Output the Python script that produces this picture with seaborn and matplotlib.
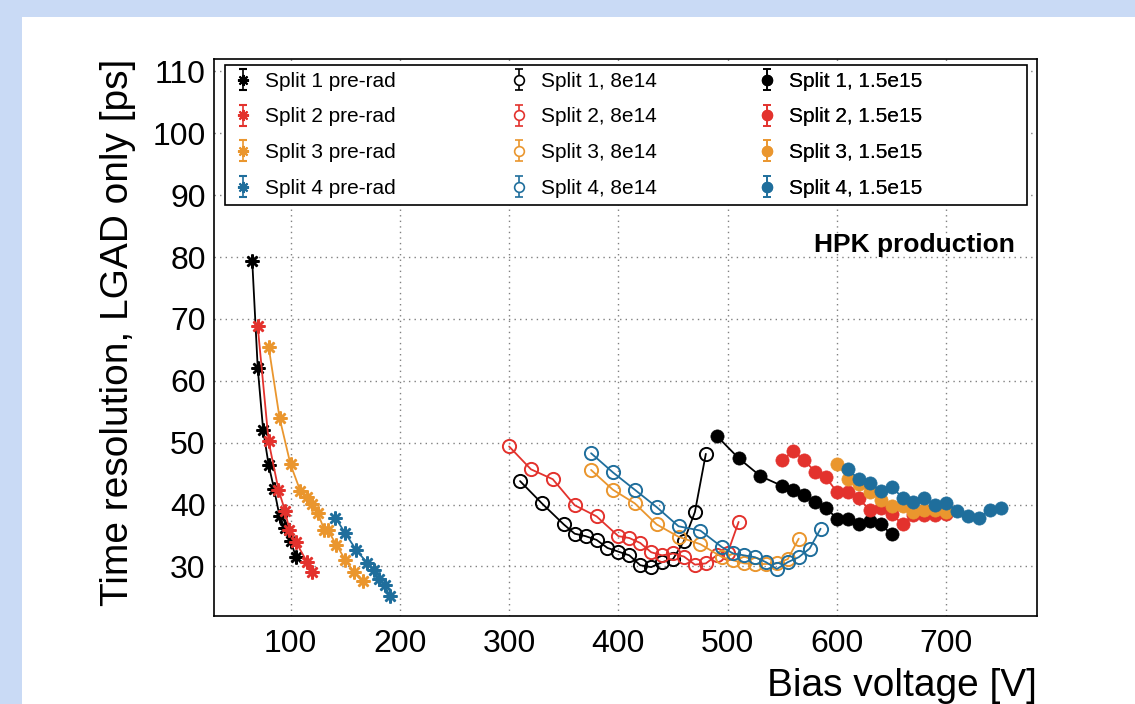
import numpy as np
import pandas as pd
import matplotlib
matplotlib.use("Agg")
import matplotlib.pyplot as plt
import seaborn as sns
from matplotlib.patches import Rectangle
from matplotlib.ticker import MultipleLocator

# ---------------- data ----------------
v_pre1 = [65, 70, 75, 80, 85, 90, 95, 100, 105]
t_pre1 = [79.3, 62.1, 52.0, 46.4, 42.5, 38.1, 36.2, 34.1, 31.6]
v_pre2 = [70, 80, 89, 95, 99, 105, 115, 120]
t_pre2 = [68.8, 50.2, 42.4, 39.0, 35.9, 33.9, 30.8, 29.1]
v_pre3 = [80, 90, 100, 109, 115, 120, 125, 131, 134, 142, 150, 158, 166]
t_pre3 = [65.5, 54.0, 46.5, 42.2, 41.3, 40.1, 38.6, 35.9, 35.9, 33.5, 31.1, 29.1, 27.6]
v_pre4 = [141, 150, 160, 170, 176, 181, 186, 191]
t_pre4 = [37.9, 35.4, 32.7, 30.6, 29.4, 27.9, 27.0, 25.2]

v_8e14_1 = [310, 330, 350, 360, 370, 380, 390, 400, 410, 420, 430, 440, 450, 460, 470, 480]
t_8e14_1 = [43.8, 40.2, 36.8, 35.3, 34.9, 34.3, 33.0, 32.4, 31.8, 30.2, 29.9, 30.7, 31.2, 34.1, 38.8, 48.2]
v_8e14_2 = [300, 320, 340, 360, 380, 400, 410, 420, 430, 440, 450, 460, 470, 480, 490, 500, 510]
t_8e14_2 = [49.4, 45.7, 44.1, 39.9, 38.1, 34.9, 34.6, 33.8, 32.3, 31.8, 32.1, 31.6, 30.3, 30.5, 31.8, 32.2, 37.2]
v_8e14_3 = [375, 395, 415, 435, 455, 475, 495, 505, 515, 525, 535, 545, 555, 565]
t_8e14_3 = [45.6, 42.4, 40.2, 36.8, 34.8, 33.6, 31.5, 31.0, 30.5, 30.4, 30.4, 30.5, 31.2, 34.5]
v_8e14_4 = [375, 395, 415, 435, 455, 475, 495, 505, 515, 525, 535, 545, 555, 565, 575, 585]
t_8e14_4 = [48.3, 45.2, 42.4, 39.6, 36.5, 35.8, 33.1, 32.1, 31.8, 31.5, 30.7, 29.6, 30.7, 31.5, 32.9, 36.1]

v_15e15_1 = [490, 510, 530, 550, 560, 570, 580, 590, 600, 610, 620, 630, 640, 650]
t_15e15_1 = [51.1, 47.5, 44.6, 43.0, 42.4, 41.5, 40.4, 39.5, 37.7, 37.7, 36.9, 37.3, 36.8, 35.2]
v_15e15_2 = [550, 560, 570, 580, 590, 600, 610, 620, 630, 640, 650, 660, 670, 680, 690, 700]
t_15e15_2 = [47.2, 48.6, 47.2, 45.3, 44.4, 42.0, 42.1, 41.0, 39.1, 39.4, 38.5, 36.8, 38.3, 38.3, 38.4, 38.5]
v_15e15_3 = [600, 610, 620, 630, 640, 650, 660, 670, 680, 690, 700]
t_15e15_3 = [46.6, 44.2, 43.4, 42.1, 40.7, 39.7, 39.7, 38.8, 39.1, 39.1, 38.8]
v_15e15_4 = [610, 620, 630, 640, 650, 660, 670, 680, 690, 700, 710, 720, 730, 740, 750]
t_15e15_4 = [45.7, 44.1, 43.5, 42.2, 42.9, 41.1, 40.4, 41.1, 39.9, 40.3, 39.0, 38.1, 37.9, 39.2, 39.5]

labels_pre = ["Split 1 pre-rad", "Split 2 pre-rad", "Split 3 pre-rad", "Split 4 pre-rad"]
labels_8e14 = ["Split 1, 8e14", "Split 2, 8e14", "Split 3, 8e14", "Split 4, 8e14"]
labels_15e15 = ["Split 1, 1.5e15", "Split 2, 1.5e15", "Split 3, 1.5e15", "Split 4, 1.5e15"]

x_ticks = [100, 200, 300, 400, 500, 600, 700]
y_ticks = [30, 40, 50, 60, 70, 80, 90, 100, 110]

colors = ["#000000", "#e3322d", "#ea962e", "#1f6e9c"]

# ---------------- style ----------------
sns.set_theme(style="white")
plt.rcParams["font.family"] = ["Liberation Sans", "DejaVu Sans"]
plt.rcParams.update({"text.color": "black", "axes.labelcolor": "black",
                     "xtick.color": "black", "ytick.color": "black"})

W, H = 1135, 704
fig = plt.figure(figsize=(W / 100, H / 100), dpi=100, facecolor="#c9daf5")
fig.add_artist(Rectangle((22 / W, 0), 1 - 22 / W, 1 - 17 / H, transform=fig.transFigure,
                         facecolor="white", edgecolor="none", zorder=-10))
ax = fig.add_axes([214 / W, 1 - 616 / H, (1037 - 214) / W, (616 - 59) / H])
ax.set_facecolor("white")

pre = [(v_pre1, t_pre1), (v_pre2, t_pre2), (v_pre3, t_pre3), (v_pre4, t_pre4)]
irr1 = [(v_8e14_1, t_8e14_1), (v_8e14_2, t_8e14_2), (v_8e14_3, t_8e14_3), (v_8e14_4, t_8e14_4)]
irr2 = [(v_15e15_1, t_15e15_1), (v_15e15_2, t_15e15_2), (v_15e15_3, t_15e15_3), (v_15e15_4, t_15e15_4)]

star = (8, 2, 0)

for (v, t), c in zip(pre, colors):
    df = pd.DataFrame({"V": v, "t": t})
    sns.lineplot(data=df, x="V", y="t", ax=ax, color=c, lw=1.3, marker=star,
                 markersize=10, markeredgewidth=1.8, markeredgecolor=c,
                 estimator=None, sort=False, zorder=3)
for (v, t), c in zip(irr1, colors):
    df = pd.DataFrame({"V": v, "t": t})
    sns.lineplot(data=df, x="V", y="t", ax=ax, color=c, lw=1.3, marker="o",
                 markersize=9.5, markerfacecolor="none", markeredgecolor=c,
                 markeredgewidth=1.4, estimator=None, sort=False, zorder=3)
for (v, t), c in zip(irr2, colors):
    df = pd.DataFrame({"V": v, "t": t})
    sns.lineplot(data=df, x="V", y="t", ax=ax, color=c, lw=1.3, marker="o",
                 markersize=9.5, markerfacecolor=c, markeredgecolor=c,
                 markeredgewidth=0.5, estimator=None, sort=False, zorder=3)

ax.set_xlim(30, 783)
ax.set_ylim(22, 112)
ax.set_xticks(x_ticks)
ax.set_yticks(y_ticks)
ax.xaxis.set_minor_locator(MultipleLocator(20))
ax.yaxis.set_minor_locator(MultipleLocator(2))
ax.tick_params(which="both", direction="in", top=False, right=False, colors="black",
               labelcolor="black", width=1.1)
ax.tick_params(axis="x", which="major", length=13, labelsize=23, pad=9)
ax.tick_params(axis="x", which="minor", length=6.5)
ax.tick_params(axis="y", which="major", length=18, labelsize=23, pad=6)
ax.tick_params(axis="y", which="minor", length=9)
for s in ax.spines.values():
    s.set_color("black")
    s.set_linewidth(1.2)
ax.grid(True, which="major", linestyle=(0, (1, 3)), color="#808080", linewidth=1.0)
ax.set_axisbelow(True)

ax.set_xlabel("Bias voltage [V]", fontsize=28, loc="right", labelpad=7, color="black")
ax.set_ylabel("Time resolution, LGAD only [ps]", fontsize=28, loc="top", labelpad=12,
              color="black")

ax.text(0.973, 0.666, "HPK production", transform=ax.transAxes, ha="right", va="center",
        fontsize=19, fontweight="bold", color="black")

# ---------------- legend ----------------
ax.add_patch(Rectangle((0.0134, 0.738), 0.9745, 0.251, transform=ax.transAxes,
                       facecolor="white", edgecolor="black", linewidth=1.2, zorder=5))


def eb_handle(marker, c, filled, label):
    kw = dict(fmt="", marker=marker, linestyle="none", color=c, ecolor=c, capsize=3,
              elinewidth=1.2, capthick=1.2, markeredgecolor=c, label=label)
    if marker == star:
        kw.update(markersize=8, markeredgewidth=1.5)
    else:
        kw.update(markersize=7, markeredgewidth=1.2,
                  markerfacecolor=(c if filled else "white"))
    return ax.errorbar([np.nan], [np.nan], yerr=[1.0], **kw)


h_pre = [eb_handle(star, c, True, l) for c, l in zip(colors, labels_pre)]
h_8 = [eb_handle("o", c, False, l) for c, l in zip(colors, labels_8e14)]
h_15 = [eb_handle("o", c, True, l) for c, l in zip(colors, labels_15e15)]

for hs, x0 in [(h_pre, 0.0231), (h_8, 0.3584), (h_15, 0.6598)]:
    leg = ax.legend(handles=hs, loc="upper left", bbox_to_anchor=(x0, 0.977),
                    frameon=False, fontsize=15, handlelength=1.0, handletextpad=0.55,
                    labelspacing=0.80, borderpad=0, borderaxespad=0, labelcolor="black")
    leg.set_zorder(6)
    ax.add_artist(leg)

fig.savefig("out.png", dpi=100, facecolor=fig.get_facecolor())
